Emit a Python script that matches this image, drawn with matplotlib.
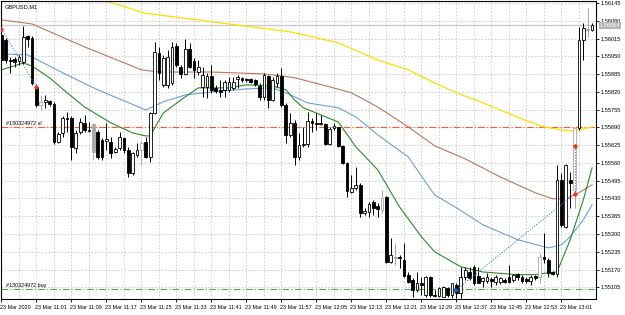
""" GBPUSD M1 candle chart with moving averages, MT4 style """
import matplotlib
matplotlib.use("Agg")
import matplotlib.pyplot as plt
import matplotlib.transforms as mtransforms

plt.rcParams['font.family'] = ['Liberation Sans', 'DejaVu Sans']

# candles, one per minute from 23 Mar 10:53
opens = [1.56029, 1.56011, 1.55937, 1.55941, 1.55934, 1.55930, 1.56025, 1.56018, 1.55839, 1.55773,
         1.55784, 1.55787, 1.55776, 1.55637, 1.55670, 1.55725, 1.55725, 1.55615, 1.55674, 1.55707,
         1.55681, 1.55703, 1.55674, 1.55645, 1.55641, 1.55637, 1.55601, 1.55615, 1.55652, 1.55608,
         1.55524, 1.55590, 1.55608, 1.55637, 1.55582, 1.55743, 1.55963, 1.55846, 1.55846, 1.55853,
         1.55989, 1.55912, 1.55886, 1.55978, 1.55934, 1.55893, 1.55839, 1.55839, 1.55879, 1.55835,
         1.55828, 1.55828, 1.55828, 1.55835, 1.55868, 1.55872, 1.55868, 1.55868, 1.55864, 1.55842,
         1.55802, 1.55879, 1.55791, 1.55853, 1.55879, 1.55773, 1.55663, 1.55707, 1.55582, 1.55626,
         1.55630, 1.55714, 1.55707, 1.55707, 1.55703, 1.55630, 1.55688, 1.55692, 1.55623, 1.55560,
         1.55454, 1.55469, 1.55480, 1.55377, 1.55381, 1.55418, 1.55403, 1.55388, 1.55436, 1.55198,
         1.55216, 1.55216, 1.55205, 1.55151, 1.55132, 1.55096, 1.55121, 1.55077, 1.55143, 1.55077,
         1.55074, 1.55070, 1.55103, 1.55077, 1.55114, 1.55085, 1.55143, 1.55161, 1.55180, 1.55147,
         1.55129, 1.55129, 1.55136, 1.55125, 1.55125, 1.55132, 1.55143, 1.55132, 1.55154, 1.55143,
         1.55136, 1.55129, 1.55147, 1.55143, 1.55216, 1.55205, 1.55161, 1.55154, 1.55498, 1.55326,
         1.55498, 1.55462, 1.55688, 1.56011, 1.56051, 1.56047]
highs = [1.56047, 1.56018, 1.55948, 1.55948, 1.55956, 1.56062, 1.56029, 1.56025, 1.55850, 1.55809,
         1.55809, 1.55791, 1.55784, 1.55674, 1.55732, 1.55747, 1.55732, 1.55681, 1.55725, 1.55736,
         1.55710, 1.55707, 1.55681, 1.55652, 1.55707, 1.55656, 1.55619, 1.55674, 1.55656, 1.55619,
         1.55601, 1.55634, 1.55641, 1.55656, 1.55747, 1.56003, 1.55985, 1.55956, 1.55974, 1.56003,
         1.56000, 1.55919, 1.56014, 1.56000, 1.55945, 1.55937, 1.55912, 1.55890, 1.55919, 1.55846,
         1.55864, 1.55864, 1.55875, 1.55875, 1.55882, 1.55875, 1.55872, 1.55872, 1.55868, 1.55853,
         1.55890, 1.55882, 1.55875, 1.55890, 1.55908, 1.55780, 1.55743, 1.55718, 1.55670, 1.55692,
         1.55747, 1.55725, 1.55743, 1.55736, 1.55707, 1.55692, 1.55707, 1.55692, 1.55626, 1.55564,
         1.55516, 1.55546, 1.55487, 1.55396, 1.55418, 1.55425, 1.55414, 1.55462, 1.55440, 1.55286,
         1.55268, 1.55224, 1.55268, 1.55161, 1.55139, 1.55161, 1.55143, 1.55147, 1.55147, 1.55096,
         1.55107, 1.55110, 1.55107, 1.55121, 1.55121, 1.55180, 1.55180, 1.55180, 1.55187, 1.55180,
         1.55143, 1.55158, 1.55143, 1.55151, 1.55143, 1.55139, 1.55187, 1.55154, 1.55158, 1.55151,
         1.55143, 1.55151, 1.55151, 1.55231, 1.55304, 1.55213, 1.55165, 1.55553, 1.55524, 1.55557,
         1.55527, 1.55692, 1.56058, 1.56073, 1.56128, 1.56073]
lows = [1.55930, 1.55926, 1.55890, 1.55912, 1.55919, 1.55923, 1.55985, 1.55846, 1.55765, 1.55754,
        1.55762, 1.55769, 1.55630, 1.55634, 1.55656, 1.55674, 1.55571, 1.55597, 1.55667, 1.55674,
        1.55674, 1.55571, 1.55575, 1.55571, 1.55608, 1.55579, 1.55597, 1.55608, 1.55597, 1.55509,
        1.55516, 1.55582, 1.55553, 1.55579, 1.55564, 1.55740, 1.55864, 1.55839, 1.55835, 1.55846,
        1.55912, 1.55872, 1.55882, 1.55908, 1.55872, 1.55882, 1.55802, 1.55798, 1.55817, 1.55817,
        1.55802, 1.55802, 1.55820, 1.55828, 1.55835, 1.55857, 1.55857, 1.55853, 1.55842, 1.55791,
        1.55791, 1.55762, 1.55787, 1.55839, 1.55765, 1.55634, 1.55656, 1.55553, 1.55571, 1.55619,
        1.55619, 1.55674, 1.55681, 1.55699, 1.55626, 1.55626, 1.55681, 1.55619, 1.55557, 1.55436,
        1.55451, 1.55462, 1.55363, 1.55370, 1.55363, 1.55370, 1.55363, 1.55377, 1.55194, 1.55194,
        1.55187, 1.55176, 1.55143, 1.55121, 1.55070, 1.55088, 1.55077, 1.55070, 1.55070, 1.55070,
        1.55070, 1.55070, 1.55070, 1.55066, 1.55066, 1.55066, 1.55132, 1.55132, 1.55114, 1.55121,
        1.55107, 1.55121, 1.55107, 1.55114, 1.55118, 1.55121, 1.55121, 1.55125, 1.55132, 1.55121,
        1.55121, 1.55114, 1.55132, 1.55121, 1.55194, 1.55143, 1.55151, 1.55143, 1.55326, 1.55323,
        1.55396, 1.55396, 1.55681, 1.55937, 1.56022, 1.56044]
closes = [1.55937, 1.55937, 1.55934, 1.55930, 1.55948, 1.56022, 1.56014, 1.55853, 1.55773, 1.55784,
          1.55791, 1.55776, 1.55637, 1.55667, 1.55725, 1.55721, 1.55619, 1.55670, 1.55710, 1.55681,
          1.55677, 1.55601, 1.55582, 1.55582, 1.55648, 1.55597, 1.55612, 1.55656, 1.55608, 1.55524,
          1.55597, 1.55608, 1.55634, 1.55582, 1.55743, 1.55967, 1.55890, 1.55945, 1.55948, 1.55985,
          1.55919, 1.55886, 1.55978, 1.55912, 1.55901, 1.55912, 1.55882, 1.55879, 1.55828, 1.55824,
          1.55820, 1.55857, 1.55857, 1.55857, 1.55875, 1.55864, 1.55864, 1.55857, 1.55850, 1.55802,
          1.55882, 1.55791, 1.55864, 1.55879, 1.55773, 1.55663, 1.55707, 1.55582, 1.55626, 1.55630,
          1.55714, 1.55707, 1.55703, 1.55703, 1.55630, 1.55685, 1.55696, 1.55623, 1.55560, 1.55458,
          1.55469, 1.55480, 1.55377, 1.55385, 1.55411, 1.55396, 1.55392, 1.55432, 1.55198, 1.55224,
          1.55213, 1.55213, 1.55147, 1.55125, 1.55096, 1.55121, 1.55114, 1.55143, 1.55077, 1.55074,
          1.55103, 1.55107, 1.55077, 1.55121, 1.55085, 1.55143, 1.55169, 1.55139, 1.55121, 1.55121,
          1.55139, 1.55143, 1.55129, 1.55143, 1.55139, 1.55125, 1.55125, 1.55151, 1.55143, 1.55129,
          1.55129, 1.55143, 1.55139, 1.55216, 1.55209, 1.55158, 1.55154, 1.55498, 1.55334, 1.55553,
          1.55487, 1.55688, 1.56011, 1.56055, 1.56047, 1.56064]
grey_bars = [9, 21, 32, 87, 90, 123, 131, 134]

# moving averages read at a few bars
ma_yellow_x = [18, 24, 33, 36, 52, 66, 77, 86, 93, 99, 104, 109, 114, 119, 124, 128, 131, 133, 135]
ma_yellow_y = [1.56168, 1.56152, 1.56108, 1.56102, 1.56069, 1.56040, 1.56000, 1.55937, 1.55901,
               1.55853, 1.55817, 1.55787, 1.55754, 1.55721, 1.55692, 1.55681, 1.55677, 1.55684, 1.55692]
ma_brown_x = [0, 7, 19, 32, 36, 48, 60, 64, 67, 75, 80, 86, 93, 99, 106, 114, 122, 126, 129, 132, 135]
ma_brown_y = [1.56084, 1.56069, 1.55985, 1.55901, 1.55893, 1.55893, 1.55886, 1.55879, 1.55872,
              1.55839, 1.55817, 1.55765, 1.55692, 1.55623, 1.55575, 1.55509, 1.55451, 1.55429,
              1.55429, 1.55451, 1.55480]
ma_blue_x = [0, 6, 15, 22, 33, 37, 42, 48, 56, 62, 65, 70, 77, 81, 86, 93, 99, 104, 110, 118, 125,
             128, 130, 133, 135]
ma_blue_y = [1.55959, 1.55956, 1.55882, 1.55828, 1.55754, 1.55784, 1.55809, 1.55820, 1.55831,
             1.55835, 1.55817, 1.55780, 1.55762, 1.55729, 1.55663, 1.55582, 1.55443, 1.55396,
             1.55334, 1.55279, 1.55249, 1.55260, 1.55290, 1.55352, 1.55407]
ma_green_x = [0, 5, 7, 11, 15, 19, 25, 30, 33, 34, 37, 42, 45, 52, 56, 62, 65, 67, 69, 73, 77, 81,
              86, 91, 96, 99, 105, 110, 118, 122, 125, 127, 130, 133, 135]
ma_green_y = [1.55901, 1.55926, 1.55915, 1.55872, 1.55817, 1.55765, 1.55707, 1.55670, 1.55659,
              1.55659, 1.55743, 1.55802, 1.55835, 1.55835, 1.55846, 1.55842, 1.55828, 1.55791,
              1.55762, 1.55736, 1.55710, 1.55619, 1.55535, 1.55399, 1.55290, 1.55235, 1.55180,
              1.55161, 1.55151, 1.55151, 1.55158, 1.55161, 1.55279, 1.55425, 1.55542]

# trades and levels
sl_price = 1.55690
buy_price = 1.55098
last_price = 1.56064
trade1_x = [0, 8]
trade1_y = [1.56051, 1.55839]
trade2_x = [104, 131]
trade2_y = [1.55096, 1.55447]
close2_y = [1.55623, 1.55447]

price_ticks = [1.56145 - 0.00065 * k for k in range(17)]
time_labels = ["23 Mar 2020", "23 Mar 11:01", "23 Mar 11:09", "23 Mar 11:17", "23 Mar 11:25",
               "23 Mar 11:33", "23 Mar 11:41", "23 Mar 11:49", "23 Mar 11:57", "23 Mar 12:05",
               "23 Mar 12:13", "23 Mar 12:21", "23 Mar 12:29", "23 Mar 12:37", "23 Mar 12:45",
               "23 Mar 12:53", "23 Mar 13:01"]

fig = plt.figure(figsize=(6.25, 3.15), dpi=100)
ax = fig.add_axes([1 / 625, 16 / 315, 595 / 625, 298 / 315])
ax.set_xlim(-0.1, 135.9)
ax.set_ylim(1.55062, 1.56153)

# grid
for gx in range(4, 136, 4):
    ax.axvline(gx, color="#c8c8c8", lw=0.6, ls=(0, (2, 2)), zorder=0)
for gy in price_ticks:
    ax.axhline(gy, color="#c8c8c8", lw=0.6, ls=(0, (2, 2)), zorder=0)

ax.axhline(last_price, color="#c8c8c8", lw=0.9, zorder=1)

# moving averages
ax.plot(ma_yellow_x, ma_yellow_y, color="#ffdd00", lw=0.9, zorder=2)
ax.plot(ma_brown_x, ma_brown_y, color="#b8775c", lw=0.8, zorder=2)
ax.plot(ma_blue_x, ma_blue_y, color="#6d9fd4", lw=0.8, zorder=2)
ax.plot(ma_green_x, ma_green_y, color="#2a8a2a", lw=0.8, zorder=2)

# order lines
ax.axhline(sl_price, color="#ff5a28", lw=0.8, ls=(0, (6, 2, 1, 2)), zorder=1)
ax.axhline(buy_price, color="#4cb050", lw=0.8, ls=(0, (6, 2, 1, 2)), zorder=1)
ax.text(1.0, sl_price + 0.00004, "#130324972 sl", fontsize=3.9, va="bottom", ha="left")
ax.text(1.0, buy_price + 0.00004, "#130324972 buy", fontsize=3.9, va="bottom", ha="left")

# candles
for i in range(len(opens)):
    o, h, l, c = opens[i], highs[i], lows[i], closes[i]
    edge = "#a8a8a8" if i in grey_bars else "black"
    ax.vlines(i, l, h, color=edge, lw=0.7, zorder=3)
    bottom = min(o, c)
    height = max(abs(c - o), 0.000012)
    face = "white" if c >= o else edge
    ax.bar(i, height, bottom=bottom, width=0.62, color=face, edgecolor=edge, lw=0.6, zorder=4)

# trade history
ax.plot(trade1_x, trade1_y, color="#3a7fd0", lw=0.8, ls=(0, (1, 1.5)), zorder=5)
ax.plot(trade1_x, trade1_y, ls="none", marker="D", ms=1.8, color="#ff2a1a", zorder=6)
ax.plot(trade2_x, trade2_y, color="#3a7fd0", lw=0.8, ls=(0, (1, 1.5)), zorder=5)
ax.plot([131, 131], close2_y, color="#3a7fd0", lw=0.8, ls=(0, (1, 1.5)), zorder=5)
ax.plot([131, 131], close2_y, ls="none", marker="D", ms=1.8, color="#ff2a1a", zorder=6)
ax.plot([trade2_x[0]], [trade2_y[0]], ls="none", marker=">", ms=2.5, color="#1a5fd0", zorder=6)

# axes
ax.yaxis.tick_right()
ax.set_yticks(price_ticks)
ax.set_yticklabels(["%.5f" % p for p in price_ticks])
ax.set_xticks(range(0, 136, 8))
ax.set_xticklabels(time_labels, ha="left")
ax.tick_params(axis="y", length=2, width=0.6, pad=1.5, labelsize=4.1)
ax.tick_params(axis="x", length=2, width=0.6, pad=2, labelsize=3.85)
for lab in ax.get_xticklabels():
    lab.set_transform(lab.get_transform() + mtransforms.ScaledTranslation(-1.5 / 100, 0, fig.dpi_scale_trans))
for sp in ax.spines.values():
    sp.set_linewidth(0.8)
    sp.set_color("black")

trans = mtransforms.blended_transform_factory(ax.transAxes, ax.transData)
ax.text(1.006, last_price, "1.56064", transform=trans, fontsize=4.1, color="white", va="center",
        ha="left", bbox=dict(boxstyle="square,pad=0.15", fc="#b4b4b4", ec="none"), zorder=10)

ax.text(0.006, 0.988, "GBPUSD,M1", transform=ax.transAxes, fontsize=4.1, va="top", ha="left")

fig.savefig("out.png", dpi=100)
